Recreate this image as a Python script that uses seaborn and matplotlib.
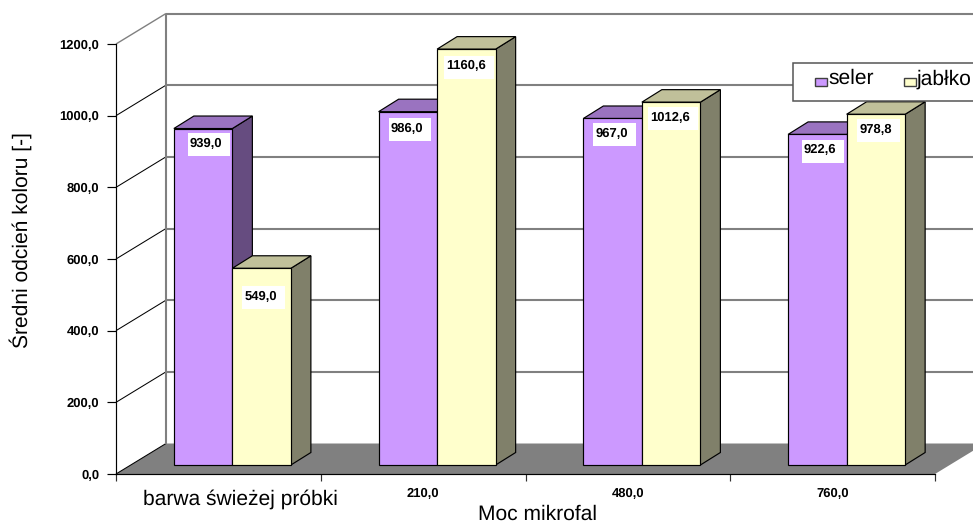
import matplotlib
matplotlib.use("Agg")
import matplotlib.pyplot as plt
import matplotlib.patches as mpatches
from matplotlib.legend_handler import HandlerPatch
from matplotlib.lines import Line2D
from matplotlib.transforms import Affine2D, IdentityTransform
import numpy as np
import pandas as pd
import seaborn as sns

# Data
categories = ["barwa świeżej próbki", "210,0", "480,0", "760,0"]
seler = [939.0, 986.0, 967.0, 922.6]
jablko = [549.0, 1160.6, 1012.6, 978.8]
y_ticks = [0, 200, 400, 600, 800, 1000, 1200]

# Face colours: front, top, side
SELER_COLORS = ("#CC99FF", "#9A73C0", "#664C80")
JABLKO_COLORS = ("#FFFFCC", "#C0C09A", "#80806A")

# Depth geometry of the pseudo-3D box, in pixels
WALL_D = (50, 30.5)
BAR_D = (14, 9)
SIDE_D = (20, 12.5)

# Data label text centres relative to a bar's top-left corner, in pixels
LABEL_DX = [[32, 28.4, 28, 32], [28, 29, 28, 28.7]]
LABEL_DY = [[15, 17, 15.4, 15.7], [28.3, 17, 15, 15.7]]

FONT = "Liberation Sans"

sns.set_theme(style="white")
plt.rcParams["font.family"] = [FONT, "DejaVu Sans"]
plt.rcParams["text.color"] = "black"
plt.rcParams["axes.labelcolor"] = "black"
plt.rcParams["text.hinting"] = "none"
plt.rcParams["text.hinting_factor"] = 1


def fmt(v):
    return f"{v:.1f}".replace(".", ",")


fig = plt.figure(figsize=(9.73, 5.24), dpi=100, facecolor="white")
ax = fig.add_axes([116 / 973, 50 / 524, 819 / 973, 430 / 524])
ax.set_facecolor("none")

df = pd.DataFrame({
    "moc": categories * 2,
    "wartosc": seler + jablko,
    "seria": ["seler"] * 4 + ["jabłko"] * 4,
})
sns.barplot(
    data=df, x="moc", y="wartosc", hue="seria", order=categories,
    hue_order=["seler", "jabłko"],
    palette={"seler": SELER_COLORS[0], "jabłko": JABLKO_COLORS[0]},
    width=0.5716, saturation=1, edgecolor="black", linewidth=0.85,
    legend=False, ax=ax,
)
ax.set_xlim(-0.5, 3.5)
ax.set_ylim(0, 1200)
ID = IdentityTransform()
renderer = fig.canvas.get_renderer()


def px(x, y):
    return ax.transData.transform((x, y))


def line(p, q, color, lw, z=1.5):
    ax.add_line(Line2D([p[0], q[0]], [p[1], q[1]], color=color, lw=lw, transform=ID,
                       clip_on=False, zorder=z, solid_capstyle="butt"))


# Floor of the box
fl, fr = px(-0.5, 0), px(3.5, 0)
floor = [fl, fr, fr + WALL_D, fl + WALL_D]
ax.add_patch(mpatches.Polygon(floor, closed=True, facecolor="#808080", edgecolor="none",
                              transform=ID, clip_on=False, zorder=1))

# Back-wall gridlines and their continuation on the left wall
for v in y_ticks:
    a = px(-0.5, v)
    b = a + WALL_D
    top = v == y_ticks[-1]
    line(a, b, "#808080" if top else "black", 1.0 if top else 0.75)
    if v > 0:
        line(b, px(3.5, v) + WALL_D, "#808080", 1.5, z=1.2)
back_bottom, back_top = px(-0.5, 0) + WALL_D, px(-0.5, 1200) + WALL_D
line(back_bottom, back_top, "#808080", 1.5)

# Bars: shift the front faces into the box, then add top and side faces
shift = ax.transData + Affine2D().translate(*BAR_D)
series_colors = [SELER_COLORS, JABLKO_COLORS]
for s, container in enumerate(ax.containers):
    z = 3 + s
    for i, bar in enumerate(container):
        bar.set_transform(shift)
        bar.set_zorder(z + 0.5)
        bar.set_clip_on(False)
        x0, x1 = bar.get_x(), bar.get_x() + bar.get_width()
        h = bar.get_height()
        bl, br = px(x0, 0) + BAR_D, px(x1, 0) + BAR_D
        tl, tr = px(x0, h) + BAR_D, px(x1, h) + BAR_D
        ax.add_patch(mpatches.Polygon([br, tr, tr + SIDE_D, br + SIDE_D], closed=True,
                                      facecolor=series_colors[s][2], edgecolor="black", lw=0.85,
                                      transform=ID, clip_on=False, zorder=z))
        ax.add_patch(mpatches.Polygon([tl, tr, tr + SIDE_D, tl + SIDE_D], closed=True,
                                      facecolor=series_colors[s][1], edgecolor="black", lw=0.85,
                                      transform=ID, clip_on=False, zorder=z))
        label = ax.text(tl[0] + LABEL_DX[s][i], tl[1] - LABEL_DY[s][i], fmt(h), transform=ID,
                        ha="center", va="center", fontsize=9.3, fontweight="bold", color="black",
                        family=FONT, zorder=6.5, clip_on=False)
        # White plate behind the label, wider on the right of the text
        ext = label.get_window_extent(renderer)
        cy = (ext.y0 + ext.y1) / 2 - 1
        ax.add_patch(mpatches.Rectangle((ext.x0 - 2, cy - 11.5), ext.width + 10, 23,
                                        facecolor="white", edgecolor="none", transform=ID,
                                        clip_on=False, zorder=6))

# Axes, ticks and titles
sns.despine(ax=ax, top=True, right=True)
for side in ("left", "bottom"):
    ax.spines[side].set_color("black")
    ax.spines[side].set_linewidth(0.85)

ax.set_yticks(y_ticks, [fmt(v) for v in y_ticks])
ax.tick_params(axis="y", direction="out", length=6.5, width=0.85, color="black", pad=5.5,
               left=True, labelsize=9.3, labelcolor="black")
for lab in ax.get_yticklabels():
    lab.set_fontweight("bold")

ax.set_xticks(np.arange(-0.5, 4.0))
ax.set_xticklabels([])
ax.tick_params(axis="x", which="major", direction="out", length=5, width=0.85, color="#303030", bottom=True)
ax.set_xticks([0.107, 1, 2, 3], categories, minor=True)
ax.tick_params(axis="x", which="minor", length=0, pad=9.5, labelsize=9.3, labelcolor="black")
for i, lab in enumerate(ax.get_xticklabels(minor=True)):
    if i == 0:
        lab.set_fontsize(15)
    else:
        lab.set_fontweight("bold")
ax.xaxis.get_minor_ticks()[0].set_pad(11)

ax.set_xlabel("Moc mikrofal", fontsize=15, color="black")
ax.xaxis.set_label_coords(0.515, -0.072)
ax.set_ylabel("Średni odcień koloru [-]", fontsize=15, color="black")
ax.yaxis.set_label_coords(-0.102, 0.544)

# Legend, running off the right edge of the canvas
frame_y = 524 - 101
ax.add_patch(mpatches.Rectangle((793, frame_y), 220, 38, facecolor="white", edgecolor="#555555",
                                lw=1.1, transform=ID, clip_on=False, zorder=7))


def swatch(legend, orig_handle, xdescent, ydescent, width, height, fontsize):
    return mpatches.Rectangle((0, -1.3), 8.6, 6.1)


handles = [mpatches.Patch(facecolor=SELER_COLORS[0], edgecolor="#404040", label="seler"),
           mpatches.Patch(facecolor=JABLKO_COLORS[0], edgecolor="#404040", label="jabłko")]
leg = ax.legend(handles=handles, ncols=2, frameon=False, fontsize=15, loc="upper left",
                bbox_to_anchor=(815, 524 - 69), bbox_transform=ID, borderpad=0, borderaxespad=0,
                handlelength=0.58, handleheight=0.4, handletextpad=0.05, columnspacing=1.44,
                handler_map={mpatches.Patch: HandlerPatch(patch_func=swatch)})
leg.set_zorder(8)

fig.savefig("out.png", dpi=100, facecolor="white")
